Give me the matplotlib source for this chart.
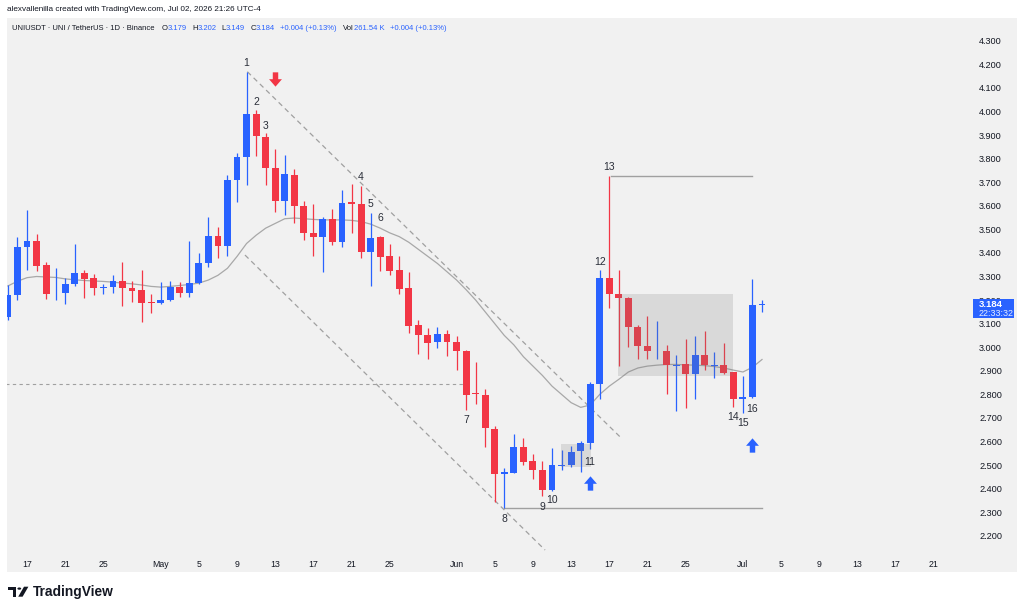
import numpy as np
import pandas as pd
import matplotlib
matplotlib.use("Agg")
import matplotlib.pyplot as plt
import matplotlib.dates as mdates
from matplotlib.patches import Rectangle, Polygon, Circle
from matplotlib.path import Path

plt.rcParams['font.family'] = ['Liberation Sans', 'DejaVu Sans']

# ---------------- data ----------------
dates = pd.date_range('2026-04-15', '2026-07-03', freq='D')
opens = [3.130, 3.223, 3.427, 3.450, 3.348, 3.228, 3.230, 3.269, 3.316, 3.293,
         3.251, 3.254, 3.282, 3.251, 3.243, 3.190, 3.186, 3.200, 3.255, 3.232,
         3.272, 3.357, 3.473, 3.431, 3.709, 3.807, 3.990, 3.891, 3.760, 3.620,
         3.730, 3.599, 3.486, 3.469, 3.544, 3.448, 3.614, 3.607, 3.402, 3.466,
         3.385, 3.328, 3.251, 3.093, 3.051, 3.022, 3.057, 3.023, 2.983, 2.806,
         2.797, 2.652, 2.462, 2.466, 2.575, 2.516, 2.479, 2.396, 2.498, 2.500,
         2.558, 2.592, 2.845, 3.293, 3.227, 3.209, 3.085, 3.007, 2.982, 2.986,
         2.922, 2.927, 2.885, 2.965, 2.922, 2.924, 2.895, 2.779, 2.790, 3.179]
highs = [3.265, 3.468, 3.582, 3.480, 3.362, 3.337, 3.294, 3.438, 3.328, 3.310,
         3.269, 3.307, 3.363, 3.282, 3.328, 3.227, 3.276, 3.279, 3.275, 3.451,
         3.399, 3.554, 3.509, 3.730, 3.824, 4.166, 4.004, 3.908, 3.842, 3.815,
         3.758, 3.620, 3.607, 3.554, 3.586, 3.666, 3.692, 3.683, 3.568, 3.472,
         3.437, 3.385, 3.321, 3.117, 3.082, 3.085, 3.072, 3.047, 2.990, 2.938,
         2.824, 2.666, 2.488, 2.631, 2.613, 2.547, 2.518, 2.571, 2.565, 2.582,
         2.603, 2.852, 3.328, 3.725, 3.328, 3.212, 3.096, 3.131, 3.113, 3.011,
         2.969, 3.037, 3.047, 3.068, 2.979, 3.019, 2.897, 2.880, 3.290, 3.202]
lows = [3.115, 3.200, 3.328, 3.325, 3.205, 3.199, 3.185, 3.260, 3.209, 3.223,
        3.227, 3.232, 3.173, 3.190, 3.106, 3.145, 3.185, 3.194, 3.213, 3.213,
        3.269, 3.340, 3.378, 3.385, 3.617, 3.687, 3.811, 3.687, 3.575, 3.561,
        3.526, 3.455, 3.385, 3.320, 3.434, 3.427, 3.483, 3.378, 3.261, 3.325,
        3.307, 3.226, 3.061, 2.973, 2.951, 2.998, 2.962, 2.903, 2.734, 2.758,
        2.575, 2.345, 2.317, 2.466, 2.502, 2.441, 2.371, 2.390, 2.479, 2.491,
        2.469, 2.568, 2.782, 3.166, 2.920, 3.000, 2.951, 2.952, 2.948, 2.800,
        2.730, 2.744, 2.779, 2.903, 2.871, 2.885, 2.748, 2.723, 2.786, 3.149]
closes = [3.223, 3.427, 3.450, 3.345, 3.227, 3.232, 3.269, 3.313, 3.290, 3.251,
          3.256, 3.282, 3.251, 3.240, 3.188, 3.186, 3.200, 3.255, 3.232, 3.272,
          3.357, 3.473, 3.431, 3.709, 3.807, 3.990, 3.894, 3.760, 3.620, 3.733,
          3.599, 3.483, 3.466, 3.544, 3.448, 3.613, 3.606, 3.402, 3.462, 3.382,
          3.325, 3.248, 3.092, 3.051, 3.019, 3.057, 3.023, 2.983, 2.797, 2.800,
          2.657, 2.462, 2.469, 2.575, 2.514, 2.479, 2.396, 2.500, 2.502, 2.557,
          2.593, 2.845, 3.293, 3.227, 3.209, 3.085, 3.004, 2.983, 2.985, 2.924,
          2.926, 2.885, 2.965, 2.924, 2.926, 2.892, 2.779, 2.790, 3.179, 3.184]
ma_line = [3.26, 3.28, 3.295, 3.30, 3.298, 3.296, 3.29, 3.286, 3.283, 3.281,
           3.279, 3.276, 3.272, 3.269, 3.264, 3.258, 3.255, 3.258, 3.262, 3.266,
           3.272, 3.285, 3.305, 3.335, 3.385, 3.44, 3.475, 3.505, 3.525, 3.545,
           3.548, 3.545, 3.542, 3.540, 3.540, 3.540, 3.538, 3.533, 3.522, 3.505,
           3.485, 3.469, 3.445, 3.415, 3.385, 3.355, 3.32, 3.285, 3.244, 3.20,
           3.15, 3.10, 3.05, 3.01, 2.96, 2.92, 2.88, 2.835, 2.80, 2.765,
           2.745, 2.755, 2.80, 2.835, 2.864, 2.895, 2.912, 2.92, 2.924, 2.927,
           2.927, 2.925, 2.924, 2.922, 2.918, 2.912, 2.903, 2.895, 2.915, 2.948]

price_ticks = [2.2, 2.3, 2.4, 2.5, 2.6, 2.7, 2.8, 2.9, 3.0, 3.1, 3.2,
               3.3, 3.4, 3.5, 3.6, 3.7, 3.8, 3.9, 4.0, 4.1, 4.2, 4.3]
date_ticks = ['2026-04-17', '2026-04-21', '2026-04-25', '2026-05-01', '2026-05-05',
              '2026-05-09', '2026-05-13', '2026-05-17', '2026-05-21', '2026-05-25',
              '2026-06-01', '2026-06-05', '2026-06-09', '2026-06-13', '2026-06-17',
              '2026-06-21', '2026-06-25', '2026-07-01', '2026-07-05', '2026-07-09',
              '2026-07-13', '2026-07-17', '2026-07-21']
date_tick_labels = ['17', '21', '25', 'May', '5', '9', '13', '17', '21', '25',
                    'Jun', '5', '9', '13', '17', '21', '25', 'Jul', '5', '9',
                    '13', '17', '21']

# wave labels: (text, date, price)
wave_labels = [('1', '2026-05-10', 4.205), ('2', '2026-05-11', 4.041),
               ('3', '2026-05-12', 3.940), ('4', '2026-05-22', 3.721),
               ('5', '2026-05-23', 3.608), ('6', '2026-05-24', 3.548),
               ('7', '2026-06-02', 2.691), ('8', '2026-06-06', 2.270),
               ('9', '2026-06-10', 2.324), ('10', '2026-06-11', 2.352),
               ('11', '2026-06-15', 2.515), ('12', '2026-06-16', 3.363),
               ('13', '2026-06-17', 3.766), ('14', '2026-06-30', 2.703),
               ('15', '2026-07-01', 2.677), ('16', '2026-07-02', 2.737)]

# trendlines (date, price) pairs
upper_trend = [('2026-05-10 02:00', 4.1685), ('2026-06-18 03:00', 2.620)]
lower_trend = [('2026-05-09 20:00', 3.391), ('2026-06-10 06:30', 2.140)]
h_dashed = [('2026-04-13', 2.844), ('2026-06-01 16:00', 2.844)]
support = [('2026-06-06', 2.317), ('2026-07-03', 2.317)]
resist = [('2026-06-17 05:00', 3.725), ('2026-07-02', 3.725)]
box_big = ('2026-06-17 23:00', '2026-06-30', 2.879, 3.2245)
box_small = ('2026-06-11 23:00', '2026-06-15 02:00', 2.4934, 2.5884)
arrows = [('down', '2026-05-13', 4.138, '#f23645'),
          ('up', '2026-06-15', 2.423, '#2962ff'),
          ('up', '2026-07-02', 2.5875, '#2962ff')]

# ---------------- figure ----------------
W, H = 1024, 612
fig = plt.figure(figsize=(W / 100, H / 100), dpi=100)
fig.patch.set_facecolor('white')
PANEL = '#f1f1f1'
TXT = '#131722'
BLUE = '#2962ff'
RED = '#f23645'

def fx(x):
    return x / W

def fy(y):
    return 1 - y / H

fig.patches.append(Rectangle((fx(6.7), fy(572)), fx(1016.7) - fx(6.7), fy(18.3) - fy(572),
                             transform=fig.transFigure, facecolor=PANEL, edgecolor='none', zorder=-5))

ax = fig.add_axes([fx(6.7), fy(552), fx(966) - fx(6.7), fy(18.3) - fy(552)])
ax.set_facecolor('none')
for s in ax.spines.values():
    s.set_visible(False)

xd = mdates.date2num(dates)
x17 = mdates.date2num(pd.Timestamp('2026-04-17'))
ax.set_xlim(x17 - 2.13, x17 + 98.37)
ax.set_ylim(2.1316, 4.395)

o = np.array(opens); c = np.array(closes); h = np.array(highs); l = np.array(lows)
up = c >= o
cols = np.where(up, BLUE, RED)
body_bottom = np.minimum(o, c)
body_h = np.maximum(np.abs(c - o), 0.004)
ax.vlines(xd, l, h, colors=cols, linewidth=0.9, zorder=3)
ax.bar(xd, body_h, bottom=body_bottom, width=0.72, color=cols, linewidth=0, zorder=4)

ax.plot(xd, ma_line, color='#a8a8a8', linewidth=0.9, zorder=2)

def seg(pts, **kw):
    xs = [mdates.date2num(pd.Timestamp(p[0])) for p in pts]
    ys = [p[1] for p in pts]
    ax.plot(xs, ys, **kw)

seg(upper_trend, color='#a0a0a0', linewidth=0.9, linestyle=(0, (4, 3)), zorder=2)
seg(lower_trend, color='#a0a0a0', linewidth=0.9, linestyle=(0, (4, 3)), zorder=2)
seg(h_dashed, color='#a0a0a0', linewidth=0.8, linestyle=(0, (3, 3)), zorder=2)
seg(support, color='#a0a0a0', linewidth=1.0, zorder=2)
seg(resist, color='#a0a0a0', linewidth=1.0, zorder=2)

for b in (box_big, box_small):
    x0 = mdates.date2num(pd.Timestamp(b[0])); x1 = mdates.date2num(pd.Timestamp(b[1]))
    ax.add_patch(Rectangle((x0, b[2]), x1 - x0, b[3] - b[2], facecolor='#7a7a7a',
                           alpha=0.2, edgecolor='none', zorder=5))

up_verts = [(-0.19, -0.5), (0.19, -0.5), (0.19, -0.02), (0.45, -0.02), (0, 0.5),
            (-0.45, -0.02), (-0.19, -0.02), (-0.19, -0.5)]
codes = [Path.MOVETO] + [Path.LINETO] * (len(up_verts) - 2) + [Path.CLOSEPOLY]
up_path = Path(up_verts, codes)
down_path = Path([(vx, -vy) for vx, vy in up_verts], codes)
for kind, d, p, col in arrows:
    ax.plot([mdates.date2num(pd.Timestamp(d))], [p], marker=up_path if kind == 'up' else down_path,
            markersize=10.3, color=col, markeredgewidth=0, linestyle='none', zorder=6)

for t, d, p in wave_labels:
    ax.text(mdates.date2num(pd.Timestamp(d)), p, t, ha='center', va='center',
            fontsize=7.5, color='#2a2e39', zorder=7)

# axes ticks
ax.yaxis.tick_right()
ax.set_yticks(price_ticks)
ax.set_yticklabels(['%.3f' % v for v in price_ticks])
ax.tick_params(axis='y', length=0, pad=9.4, labelsize=6.6, labelcolor=TXT)
ax.set_xticks([mdates.date2num(pd.Timestamp(d)) for d in date_ticks])
ax.set_xticklabels(date_tick_labels)
ax.tick_params(axis='x', length=0, pad=5.5, labelsize=6.3, labelcolor=TXT)

# current price box
fig.patches.append(Rectangle((fx(973.3), fy(318.3)), fx(1014) - fx(973.3), fy(299) - fy(318.3),
                             transform=fig.transFigure, facecolor=BLUE, edgecolor='none', zorder=10))
fig.text(fx(978.5), fy(304.5), '%.3f' % closes[-1], color='white', fontsize=6.8,
         fontweight='bold', ha='left', va='center', zorder=11)
fig.text(fx(978.5), fy(314), '22:33:32', color='#e8eeff', fontsize=6.4,
         ha='left', va='center', zorder=11)

renderer = fig.canvas.get_renderer()

def fit(x, y, s, width, **kw):
    t = fig.text(fx(x), fy(y), s, ha='left', va='center', **kw)
    w = t.get_window_extent(renderer).width
    t.set_fontsize(t.get_fontsize() * width / w)
    return t

fit(6.7, 9.5, 'alexvallenilla created with TradingView.com, Jul 02, 2026 21:26 UTC-4', 256, color=TXT)

# legend line: laid out sequentially, font scaled to span the reference width
pieces = [('UNIUSDT · UNI / TetherUS · 1D · Binance', TXT, 5),
          ('O', TXT, 0), ('%.3f' % opens[-1], BLUE, 5),
          ('H', TXT, 0), ('%.3f' % highs[-1], BLUE, 5),
          ('L', TXT, 0), ('%.3f' % lows[-1], BLUE, 5),
          ('C', TXT, 0), ('%.3f' % closes[-1], BLUE, 5),
          ('+0.004 (+0.13%)', BLUE, 5),
          ('Vol', TXT, 0), ('261.54 K', BLUE, 5),
          ('+0.004 (+0.13%)', BLUE, 0)]
x_start, x_end, y_leg = 12.3, 448.0, 28.0
f0 = 6.0
texts = [fig.text(0, fy(y_leg), s, ha='left', va='center', fontsize=f0, color=col)
         for s, col, g in pieces]
widths = [t.get_window_extent(renderer).width for t in texts]
gaps = sum(g for s, col, g in pieces)
fs = f0 * (x_end - x_start - gaps) / sum(widths)
cur = x_start
for t, (s, col, g), w in zip(texts, pieces, widths):
    t.set_fontsize(fs)
    t.set_x(fx(cur))
    cur += w * fs / f0 + g

# TradingView logo
LOGO = '#131722'
fig.patches.append(Polygon([(fx(8.3), fy(586.7)), (fx(16.2), fy(586.7)), (fx(16.2), fy(596.7)),
                            (fx(12.6), fy(596.7)), (fx(12.6), fy(590.2)), (fx(8.3), fy(590.2))],
                           closed=True, transform=fig.transFigure, facecolor=LOGO, edgecolor='none'))
fig.patches.append(Circle((fx(19.3), fy(588.6)), 1.9 / W, transform=fig.transFigure,
                          facecolor=LOGO, edgecolor='none'))
fig.patches.append(Polygon([(fx(18.2), fy(596.7)), (fx(22.6), fy(596.7)), (fx(28.4), fy(586.7)),
                            (fx(24.0), fy(586.7))], closed=True, transform=fig.transFigure,
                           facecolor=LOGO, edgecolor='none'))
fit(33, 592, 'TradingView', 81, color=LOGO, fontweight='bold')

fig.savefig('out.png', dpi=100)
